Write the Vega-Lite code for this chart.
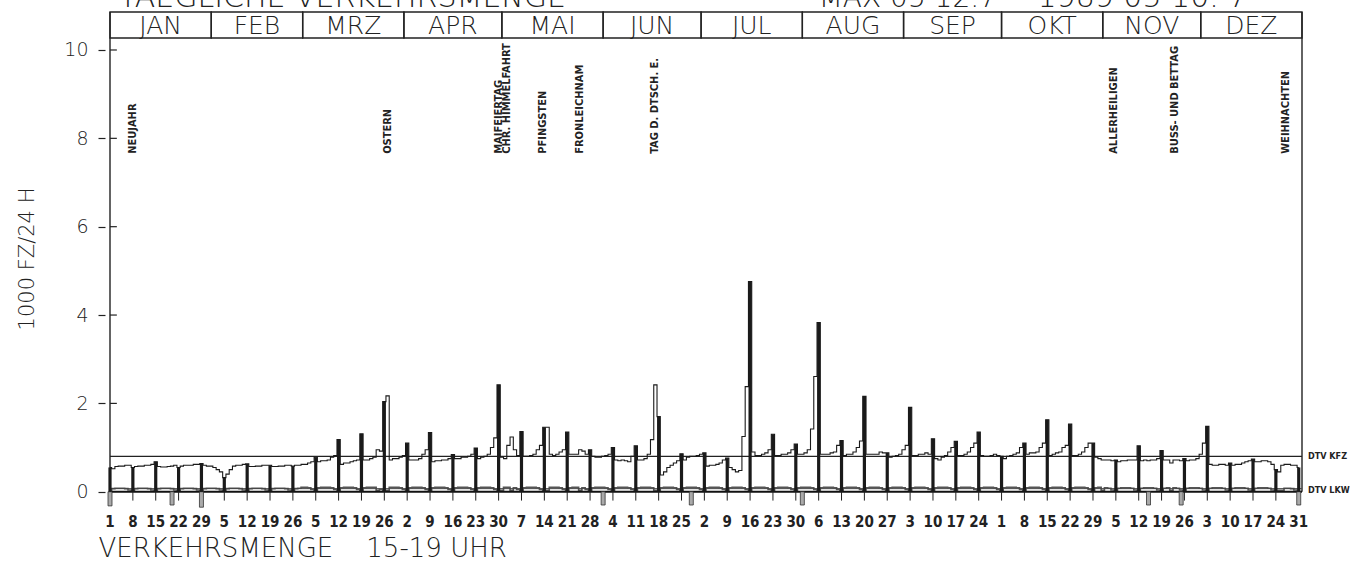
{
  "$schema": "https://vega.github.io/schema/vega-lite/v6.json",
  "autosize": {"type": "none"},
  "width": 1202,
  "height": 493,
  "padding": {"left": 105, "top": 12, "right": 52, "bottom": 62},
  "background": "white",
  "config": {"view": {"stroke": null}},
  "datasets": {
    "tage": [
      {"d":1,"k":0.55,"l":0.03},{"d":2,"k":0.52,"l":0.07},{"d":3,"k":0.57,"l":0.08},{"d":4,"k":0.58,"l":0.08},{"d":5,"k":0.58,"l":0.08},{"d":6,"k":0.6,"l":0.07},{"d":7,"k":0.6,"l":0.04},
      {"d":8,"k":0.55,"l":0.03},{"d":9,"k":0.57,"l":0.07},{"d":10,"k":0.58,"l":0.08},{"d":11,"k":0.58,"l":0.08},{"d":12,"k":0.6,"l":0.08},{"d":13,"k":0.6,"l":0.07},{"d":14,"k":0.62,"l":0.04},
      {"d":15,"k":0.68,"l":0.03},{"d":16,"k":0.57,"l":0.07},{"d":17,"k":0.56,"l":0.08},{"d":18,"k":0.56,"l":0.08},{"d":19,"k":0.57,"l":0.08},{"d":20,"k":0.58,"l":0.07},{"d":21,"k":0.6,"l":0.04},
      {"d":22,"k":0.55,"l":0.03},{"d":23,"k":0.58,"l":0.07},{"d":24,"k":0.6,"l":0.08},{"d":25,"k":0.6,"l":0.08},{"d":26,"k":0.6,"l":0.08},{"d":27,"k":0.62,"l":0.07},{"d":28,"k":0.62,"l":0.04},
      {"d":29,"k":0.64,"l":0.03},{"d":30,"k":0.6,"l":0.07},{"d":31,"k":0.58,"l":0.08},{"d":32,"k":0.58,"l":0.08},{"d":33,"k":0.55,"l":0.08},{"d":34,"k":0.5,"l":0.07},{"d":35,"k":0.45,"l":0.04},
      {"d":36,"k":0.32,"l":0.03},{"d":37,"k":0.4,"l":0.07},{"d":38,"k":0.5,"l":0.08},{"d":39,"k":0.58,"l":0.08},{"d":40,"k":0.6,"l":0.08},{"d":41,"k":0.6,"l":0.07},{"d":42,"k":0.62,"l":0.04},
      {"d":43,"k":0.63,"l":0.03},{"d":44,"k":0.57,"l":0.07},{"d":45,"k":0.57,"l":0.08},{"d":46,"k":0.58,"l":0.08},{"d":47,"k":0.58,"l":0.08},{"d":48,"k":0.6,"l":0.07},{"d":49,"k":0.6,"l":0.04},
      {"d":50,"k":0.6,"l":0.03},{"d":51,"k":0.57,"l":0.07},{"d":52,"k":0.57,"l":0.08},{"d":53,"k":0.58,"l":0.08},{"d":54,"k":0.58,"l":0.08},{"d":55,"k":0.6,"l":0.07},{"d":56,"k":0.6,"l":0.04},
      {"d":57,"k":0.58,"l":0.03},{"d":58,"k":0.6,"l":0.07},{"d":59,"k":0.6,"l":0.08},{"d":60,"k":0.62,"l":0.1},{"d":61,"k":0.62,"l":0.1},{"d":62,"k":0.65,"l":0.09},{"d":63,"k":0.68,"l":0.05},
      {"d":64,"k":0.78,"l":0.03},{"d":65,"k":0.68,"l":0.09},{"d":66,"k":0.7,"l":0.1},{"d":67,"k":0.7,"l":0.1},{"d":68,"k":0.72,"l":0.1},{"d":69,"k":0.78,"l":0.09},{"d":70,"k":0.82,"l":0.05},
      {"d":71,"k":1.18,"l":0.03},{"d":72,"k":0.62,"l":0.09},{"d":73,"k":0.65,"l":0.1},{"d":74,"k":0.65,"l":0.1},{"d":75,"k":0.68,"l":0.1},{"d":76,"k":0.7,"l":0.09},{"d":77,"k":0.72,"l":0.05},
      {"d":78,"k":1.31,"l":0.03},{"d":79,"k":0.72,"l":0.09},{"d":80,"k":0.72,"l":0.1},{"d":81,"k":0.75,"l":0.1},{"d":82,"k":0.78,"l":0.1},{"d":83,"k":0.95,"l":0.03},{"d":84,"k":0.92,"l":0.05},
      {"d":85,"k":2.04,"l":0.03},{"d":86,"k":2.17,"l":0.03},{"d":87,"k":0.72,"l":0.1},{"d":88,"k":0.75,"l":0.1},{"d":89,"k":0.75,"l":0.1},{"d":90,"k":0.78,"l":0.09},{"d":91,"k":0.82,"l":0.05},
      {"d":92,"k":1.1,"l":0.03},{"d":93,"k":0.72,"l":0.09},{"d":94,"k":0.72,"l":0.1},{"d":95,"k":0.72,"l":0.1},{"d":96,"k":0.75,"l":0.1},{"d":97,"k":0.85,"l":0.09},{"d":98,"k":0.95,"l":0.05},
      {"d":99,"k":1.34,"l":0.03},{"d":100,"k":0.68,"l":0.09},{"d":101,"k":0.7,"l":0.1},{"d":102,"k":0.7,"l":0.1},{"d":103,"k":0.72,"l":0.1},{"d":104,"k":0.72,"l":0.09},{"d":105,"k":0.75,"l":0.05},
      {"d":106,"k":0.84,"l":0.03},{"d":107,"k":0.75,"l":0.09},{"d":108,"k":0.75,"l":0.1},{"d":109,"k":0.78,"l":0.1},{"d":110,"k":0.78,"l":0.1},{"d":111,"k":0.8,"l":0.09},{"d":112,"k":0.85,"l":0.05},
      {"d":113,"k":0.99,"l":0.03},{"d":114,"k":0.75,"l":0.09},{"d":115,"k":0.78,"l":0.1},{"d":116,"k":0.8,"l":0.1},{"d":117,"k":0.85,"l":0.1},{"d":118,"k":1.0,"l":0.09},{"d":119,"k":1.22,"l":0.05},
      {"d":120,"k":2.42,"l":0.03},{"d":121,"k":0.78,"l":0.03},{"d":122,"k":0.75,"l":0.1},{"d":123,"k":1.05,"l":0.1},{"d":124,"k":1.24,"l":0.03},{"d":125,"k":0.95,"l":0.09},{"d":126,"k":0.82,"l":0.05},
      {"d":127,"k":1.36,"l":0.03},{"d":128,"k":0.8,"l":0.09},{"d":129,"k":0.8,"l":0.1},{"d":130,"k":0.82,"l":0.1},{"d":131,"k":0.85,"l":0.1},{"d":132,"k":0.95,"l":0.09},{"d":133,"k":1.05,"l":0.05},
      {"d":134,"k":1.46,"l":0.03},{"d":135,"k":1.46,"l":0.03},{"d":136,"k":0.85,"l":0.1},{"d":137,"k":0.82,"l":0.1},{"d":138,"k":0.85,"l":0.1},{"d":139,"k":0.9,"l":0.09},{"d":140,"k":0.95,"l":0.05},
      {"d":141,"k":1.35,"l":0.03},{"d":142,"k":0.85,"l":0.09},{"d":143,"k":0.85,"l":0.1},{"d":144,"k":0.85,"l":0.1},{"d":145,"k":0.95,"l":0.03},{"d":146,"k":0.92,"l":0.09},{"d":147,"k":0.85,"l":0.05},
      {"d":148,"k":0.95,"l":0.03},{"d":149,"k":0.8,"l":0.09},{"d":150,"k":0.78,"l":0.1},{"d":151,"k":0.78,"l":0.1},{"d":152,"k":0.8,"l":0.1},{"d":153,"k":0.82,"l":0.09},{"d":154,"k":0.85,"l":0.05},
      {"d":155,"k":1.0,"l":0.03},{"d":156,"k":0.72,"l":0.09},{"d":157,"k":0.7,"l":0.1},{"d":158,"k":0.72,"l":0.1},{"d":159,"k":0.7,"l":0.1},{"d":160,"k":0.68,"l":0.09},{"d":161,"k":0.8,"l":0.05},
      {"d":162,"k":1.04,"l":0.03},{"d":163,"k":0.72,"l":0.09},{"d":164,"k":0.72,"l":0.1},{"d":165,"k":0.75,"l":0.1},{"d":166,"k":0.85,"l":0.1},{"d":167,"k":1.18,"l":0.09},{"d":168,"k":2.42,"l":0.03},
      {"d":169,"k":1.7,"l":0.03},{"d":170,"k":0.38,"l":0.09},{"d":171,"k":0.45,"l":0.1},{"d":172,"k":0.55,"l":0.1},{"d":173,"k":0.6,"l":0.1},{"d":174,"k":0.65,"l":0.09},{"d":175,"k":0.7,"l":0.05},
      {"d":176,"k":0.86,"l":0.03},{"d":177,"k":0.72,"l":0.09},{"d":178,"k":0.78,"l":0.1},{"d":179,"k":0.8,"l":0.1},{"d":180,"k":0.8,"l":0.1},{"d":181,"k":0.82,"l":0.09},{"d":182,"k":0.85,"l":0.05},
      {"d":183,"k":0.88,"l":0.03},{"d":184,"k":0.58,"l":0.09},{"d":185,"k":0.6,"l":0.1},{"d":186,"k":0.6,"l":0.1},{"d":187,"k":0.62,"l":0.1},{"d":188,"k":0.65,"l":0.09},{"d":189,"k":0.72,"l":0.05},
      {"d":190,"k":0.76,"l":0.03},{"d":191,"k":0.55,"l":0.09},{"d":192,"k":0.5,"l":0.1},{"d":193,"k":0.45,"l":0.1},{"d":194,"k":0.48,"l":0.1},{"d":195,"k":1.25,"l":0.09},{"d":196,"k":2.38,"l":0.05},
      {"d":197,"k":4.76,"l":0.03},{"d":198,"k":0.9,"l":0.09},{"d":199,"k":0.82,"l":0.1},{"d":200,"k":0.82,"l":0.1},{"d":201,"k":0.85,"l":0.1},{"d":202,"k":0.88,"l":0.09},{"d":203,"k":0.95,"l":0.05},
      {"d":204,"k":1.3,"l":0.03},{"d":205,"k":0.82,"l":0.09},{"d":206,"k":0.82,"l":0.1},{"d":207,"k":0.85,"l":0.1},{"d":208,"k":0.85,"l":0.1},{"d":209,"k":0.88,"l":0.09},{"d":210,"k":0.95,"l":0.05},
      {"d":211,"k":1.08,"l":0.03},{"d":212,"k":0.85,"l":0.09},{"d":213,"k":0.85,"l":0.1},{"d":214,"k":0.88,"l":0.1},{"d":215,"k":0.95,"l":0.1},{"d":216,"k":1.42,"l":0.09},{"d":217,"k":2.61,"l":0.05},
      {"d":218,"k":3.83,"l":0.03},{"d":219,"k":0.85,"l":0.09},{"d":220,"k":0.85,"l":0.1},{"d":221,"k":0.85,"l":0.1},{"d":222,"k":0.88,"l":0.1},{"d":223,"k":0.9,"l":0.09},{"d":224,"k":1.05,"l":0.05},
      {"d":225,"k":1.16,"l":0.03},{"d":226,"k":0.82,"l":0.09},{"d":227,"k":0.85,"l":0.1},{"d":228,"k":0.85,"l":0.1},{"d":229,"k":0.9,"l":0.1},{"d":230,"k":1.0,"l":0.09},{"d":231,"k":1.15,"l":0.05},
      {"d":232,"k":2.16,"l":0.03},{"d":233,"k":0.85,"l":0.09},{"d":234,"k":0.85,"l":0.1},{"d":235,"k":0.85,"l":0.1},{"d":236,"k":0.85,"l":0.1},{"d":237,"k":0.9,"l":0.09},{"d":238,"k":0.88,"l":0.05},
      {"d":239,"k":0.88,"l":0.03},{"d":240,"k":0.78,"l":0.09},{"d":241,"k":0.8,"l":0.1},{"d":242,"k":0.82,"l":0.1},{"d":243,"k":0.85,"l":0.1},{"d":244,"k":0.95,"l":0.09},{"d":245,"k":1.05,"l":0.05},
      {"d":246,"k":1.91,"l":0.03},{"d":247,"k":0.82,"l":0.09},{"d":248,"k":0.82,"l":0.1},{"d":249,"k":0.85,"l":0.1},{"d":250,"k":0.85,"l":0.1},{"d":251,"k":0.88,"l":0.09},{"d":252,"k":0.85,"l":0.05},
      {"d":253,"k":1.2,"l":0.03},{"d":254,"k":0.75,"l":0.09},{"d":255,"k":0.72,"l":0.1},{"d":256,"k":0.78,"l":0.1},{"d":257,"k":0.82,"l":0.1},{"d":258,"k":0.9,"l":0.09},{"d":259,"k":1.0,"l":0.05},
      {"d":260,"k":1.14,"l":0.03},{"d":261,"k":0.82,"l":0.09},{"d":262,"k":0.82,"l":0.1},{"d":263,"k":0.85,"l":0.1},{"d":264,"k":0.9,"l":0.1},{"d":265,"k":1.0,"l":0.09},{"d":266,"k":1.1,"l":0.05},
      {"d":267,"k":1.35,"l":0.03},{"d":268,"k":0.82,"l":0.09},{"d":269,"k":0.8,"l":0.1},{"d":270,"k":0.8,"l":0.1},{"d":271,"k":0.82,"l":0.1},{"d":272,"k":0.85,"l":0.09},{"d":273,"k":0.82,"l":0.05},
      {"d":274,"k":0.8,"l":0.03},{"d":275,"k":0.75,"l":0.09},{"d":276,"k":0.8,"l":0.1},{"d":277,"k":0.82,"l":0.1},{"d":278,"k":0.85,"l":0.1},{"d":279,"k":0.88,"l":0.09},{"d":280,"k":1.0,"l":0.05},
      {"d":281,"k":1.1,"l":0.03},{"d":282,"k":0.85,"l":0.09},{"d":283,"k":0.88,"l":0.1},{"d":284,"k":0.88,"l":0.1},{"d":285,"k":0.9,"l":0.1},{"d":286,"k":1.0,"l":0.09},{"d":287,"k":1.1,"l":0.05},
      {"d":288,"k":1.63,"l":0.03},{"d":289,"k":0.82,"l":0.09},{"d":290,"k":0.85,"l":0.1},{"d":291,"k":0.88,"l":0.1},{"d":292,"k":0.9,"l":0.1},{"d":293,"k":1.0,"l":0.09},{"d":294,"k":1.05,"l":0.05},
      {"d":295,"k":1.53,"l":0.03},{"d":296,"k":0.82,"l":0.09},{"d":297,"k":0.82,"l":0.1},{"d":298,"k":0.85,"l":0.1},{"d":299,"k":0.9,"l":0.1},{"d":300,"k":1.0,"l":0.09},{"d":301,"k":1.1,"l":0.05},
      {"d":302,"k":1.1,"l":0.03},{"d":303,"k":0.78,"l":0.09},{"d":304,"k":0.75,"l":0.1},{"d":305,"k":0.72,"l":0.03},{"d":306,"k":0.72,"l":0.09},{"d":307,"k":0.72,"l":0.08},{"d":308,"k":0.7,"l":0.04},
      {"d":309,"k":0.72,"l":0.03},{"d":310,"k":0.68,"l":0.08},{"d":311,"k":0.7,"l":0.09},{"d":312,"k":0.7,"l":0.09},{"d":313,"k":0.72,"l":0.09},{"d":314,"k":0.72,"l":0.08},{"d":315,"k":0.72,"l":0.04},
      {"d":316,"k":1.04,"l":0.03},{"d":317,"k":0.7,"l":0.08},{"d":318,"k":0.72,"l":0.09},{"d":319,"k":0.7,"l":0.09},{"d":320,"k":0.72,"l":0.09},{"d":321,"k":0.72,"l":0.08},{"d":322,"k":0.75,"l":0.04},
      {"d":323,"k":0.93,"l":0.03},{"d":324,"k":0.72,"l":0.08},{"d":325,"k":0.72,"l":0.09},{"d":326,"k":0.65,"l":0.03},{"d":327,"k":0.72,"l":0.09},{"d":328,"k":0.72,"l":0.08},{"d":329,"k":0.7,"l":0.04},
      {"d":330,"k":0.75,"l":0.03},{"d":331,"k":0.7,"l":0.08},{"d":332,"k":0.72,"l":0.09},{"d":333,"k":0.72,"l":0.09},{"d":334,"k":0.75,"l":0.09},{"d":335,"k":0.85,"l":0.08},{"d":336,"k":1.1,"l":0.04},
      {"d":337,"k":1.48,"l":0.03},{"d":338,"k":0.62,"l":0.08},{"d":339,"k":0.6,"l":0.09},{"d":340,"k":0.6,"l":0.09},{"d":341,"k":0.62,"l":0.09},{"d":342,"k":0.62,"l":0.08},{"d":343,"k":0.6,"l":0.04},
      {"d":344,"k":0.65,"l":0.03},{"d":345,"k":0.6,"l":0.08},{"d":346,"k":0.62,"l":0.09},{"d":347,"k":0.62,"l":0.09},{"d":348,"k":0.65,"l":0.09},{"d":349,"k":0.68,"l":0.08},{"d":350,"k":0.7,"l":0.04},
      {"d":351,"k":0.74,"l":0.03},{"d":352,"k":0.68,"l":0.08},{"d":353,"k":0.68,"l":0.09},{"d":354,"k":0.7,"l":0.09},{"d":355,"k":0.7,"l":0.09},{"d":356,"k":0.68,"l":0.08},{"d":357,"k":0.62,"l":0.04},
      {"d":358,"k":0.5,"l":0.03},{"d":359,"k":0.45,"l":0.03},{"d":360,"k":0.6,"l":0.03},{"d":361,"k":0.62,"l":0.08},{"d":362,"k":0.62,"l":0.08},{"d":363,"k":0.6,"l":0.07},{"d":364,"k":0.6,"l":0.04},
      {"d":365,"k":0.55,"l":0.03}
    ],
    "monate": [
      {"m":"JAN","von":1,"bis":32},{"m":"FEB","von":32,"bis":60},{"m":"MRZ","von":60,"bis":91},
      {"m":"APR","von":91,"bis":121},{"m":"MAI","von":121,"bis":152},{"m":"JUN","von":152,"bis":182},
      {"m":"JUL","von":182,"bis":213},{"m":"AUG","von":213,"bis":244},{"m":"SEP","von":244,"bis":274},
      {"m":"OKT","von":274,"bis":305},{"m":"NOV","von":305,"bis":335},{"m":"DEZ","von":335,"bis":366}
    ],
    "feiertage": [
      {"d":8,"name":"NEUJAHR"},{"d":86,"name":"OSTERN"},{"d":120,"name":"MAIFEIERTAG"},
      {"d":122.7,"name":"CHR. HIMMELFAHRT"},{"d":133.5,"name":"PFINGSTEN"},{"d":145,"name":"FRONLEICHNAM"},
      {"d":168,"name":"TAG D. DTSCH. E."},{"d":308.5,"name":"ALLERHEILIGEN"},{"d":327,"name":"BUSS- UND BETTAG"},
      {"d":361,"name":"WEIHNACHTEN"}
    ],
    "luecken": [
      {"d":1,"t":-0.32},{"d":20,"t":-0.3},{"d":29,"t":-0.35},{"d":152,"t":-0.3},{"d":179,"t":-0.3},
      {"d":213,"t":-0.3},{"d":319,"t":-0.3},{"d":329,"t":-0.3},{"d":365,"t":-0.3}
    ],
    "ticks": [{"v":2},{"v":4},{"v":6},{"v":8},{"v":10}],
    "eins": [{}]
  },
  "layer": [
    {
      "data": {"name": "tage"},
      "mark": {"type": "line", "interpolate": "step", "color": "#555", "strokeWidth": 1.6},
      "encoding": {
        "x": {"field": "d", "type": "quantitative", "scale": {"domain": [1, 366], "nice": false, "zero": false},
          "axis": {
            "labels": false, "ticks": false, "domain": false, "grid": false,
            "title": "VERKEHRSMENGE\u00a0\u00a0\u00a0\u00a015-19 UHR",
            "titleAnchor": "start", "titleAlign": "left", "titleBaseline": "top",
            "titleX": -7, "titleY": 30,
            "titleFont": "DejaVu Sans", "titleFontWeight": 200, "titleFontSize": 26, "titleColor": "#222"
          }},
        "y": {"field": "l", "type": "quantitative", "scale": {"domain": [-0.3, 10.86], "nice": false, "zero": false},
          "axis": {
            "values": [0,2,4,6,8,10], "domain": false, "grid": false,
            "tickSize": 7, "tickColor": "#222", "tickWidth": 1.2,
            "labelFont": "DejaVu Sans", "labelFontWeight": 200, "labelFontSize": 19, "labelColor": "#222", "labelPadding": 10,
            "title": "1000 FZ/24 H", "titleFont": "DejaVu Sans", "titleFontWeight": 200, "titleFontSize": 21,
            "titleColor": "#222", "titlePadding": 26
          }}
      }
    },
    {
      "data": {"name": "monate"},
      "mark": {"type": "rect", "fill": null, "fillOpacity": 0, "stroke": "#222", "strokeWidth": 1.4},
      "encoding": {
        "x": {"field": "von", "type": "quantitative"},
        "x2": {"field": "bis"},
        "y": {"datum": 10.27},
        "y2": {"datum": 10.86}
      }
    },
    {
      "data": {"name": "monate"},
      "transform": [{"calculate": "(datum.von + datum.bis) / 2", "as": "mitte"}],
      "mark": {"type": "text", "font": "DejaVu Sans", "fontWeight": 200, "fontSize": 25, "color": "#222", "baseline": "middle", "align": "center", "dy": 1},
      "encoding": {
        "x": {"field": "mitte", "type": "quantitative"},
        "y": {"datum": 10.56},
        "text": {"field": "m"}
      }
    },
    {
      "data": {"name": "eins"},
      "mark": {"type": "rule", "color": "#222", "strokeWidth": 1.4},
      "encoding": {"x": {"datum": 1}, "y": {"datum": -0.05}, "y2": {"datum": 10.86}}
    },
    {
      "data": {"name": "eins"},
      "mark": {"type": "rule", "color": "#222", "strokeWidth": 1.4},
      "encoding": {"x": {"datum": 366}, "y": {"datum": 0}, "y2": {"datum": 10.86}}
    },
    {
      "data": {"name": "ticks"},
      "mark": {"type": "rule", "color": "#222", "strokeWidth": 1.2},
      "encoding": {"x": {"datum": 1}, "x2": {"datum": 3.1}, "y": {"field": "v", "type": "quantitative"}}
    },
    {
      "data": {"name": "eins"},
      "mark": {"type": "rule", "color": "#111", "strokeWidth": 2},
      "encoding": {"x": {"datum": 1}, "x2": {"datum": 366}, "y": {"datum": 0}}
    },
    {
      "data": {"name": "eins"},
      "mark": {"type": "rule", "color": "#222", "strokeWidth": 1.1},
      "encoding": {"x": {"datum": 1}, "x2": {"datum": 366}, "y": {"datum": 0.8}}
    },
    {
      "data": {"name": "eins"},
      "mark": {"type": "rule", "color": "#444", "strokeWidth": 1},
      "encoding": {"x": {"datum": 1}, "x2": {"datum": 366}, "y": {"datum": 0.07}}
    },
    {
      "data": {"name": "tage"},
      "transform": [{"filter": "datum.d % 7 == 1"}],
      "mark": {"type": "rule", "color": "#222", "strokeWidth": 1},
      "encoding": {"x": {"field": "d", "type": "quantitative"}, "y": {"datum": 0}, "y2": {"datum": -0.2}}
    },
    {
      "data": {"name": "tage"},
      "transform": [{"filter": "datum.d % 7 == 1"}, {"calculate": "date(datetime(1989, 0, datum.d))", "as": "tag"}],
      "mark": {"type": "text", "font": "DejaVu Sans Condensed", "fontWeight": "bold", "fontSize": 15, "color": "#222", "baseline": "middle", "align": "center"},
      "encoding": {"x": {"field": "d", "type": "quantitative"}, "y": {"datum": -0.68}, "text": {"field": "tag"}}
    },
    {
      "data": {"name": "luecken"},
      "mark": {"type": "bar", "orient": "vertical", "size": 4, "fill": "#aaa", "stroke": "#333", "strokeWidth": 0.8},
      "encoding": {"x": {"field": "d", "type": "quantitative"}, "y": {"field": "t", "type": "quantitative"}, "y2": {"datum": 0}}
    },
    {
      "data": {"name": "tage"},
      "mark": {"type": "line", "interpolate": "step", "color": "#1a1a1a", "strokeWidth": 1.1},
      "encoding": {"x": {"field": "d", "type": "quantitative"}, "y": {"field": "k", "type": "quantitative"}}
    },
    {
      "data": {"name": "tage"},
      "transform": [{"filter": "datum.d % 7 == 1"}],
      "mark": {"type": "rule", "color": "#1a1a1a", "strokeWidth": 3.2},
      "encoding": {"x": {"field": "d", "type": "quantitative"}, "y": {"field": "k", "type": "quantitative"}, "y2": {"datum": 0}}
    },
    {
      "data": {"name": "feiertage"},
      "mark": {"type": "text", "angle": 270, "align": "left", "baseline": "middle", "font": "DejaVu Sans Condensed", "fontWeight": "bold", "fontSize": 11, "color": "#222"},
      "encoding": {"x": {"field": "d", "type": "quantitative"}, "y": {"datum": 7.65}, "text": {"field": "name"}}
    },
    {
      "data": {"name": "eins"},
      "mark": {"type": "text", "text": "DTV KFZ", "align": "left", "baseline": "middle", "dx": 6, "font": "DejaVu Sans Condensed", "fontWeight": "bold", "fontSize": 9, "color": "#222"},
      "encoding": {"x": {"datum": 366}, "y": {"datum": 0.8}}
    },
    {
      "data": {"name": "eins"},
      "mark": {"type": "text", "text": "DTV LKW", "align": "left", "baseline": "middle", "dx": 6, "font": "DejaVu Sans Condensed", "fontWeight": "bold", "fontSize": 9, "color": "#222"},
      "encoding": {"x": {"datum": 366}, "y": {"datum": 0.05}}
    },
    {
      "data": {"name": "eins"},
      "mark": {"type": "text", "text": "TAEGLICHE  VERKEHRSMENGE", "align": "left", "baseline": "alphabetic", "font": "DejaVu Sans", "fontWeight": 200, "fontSize": 30, "color": "#222"},
      "encoding": {"x": {"datum": 3.7}, "y": {"datum": 10.97}}
    },
    {
      "data": {"name": "eins"},
      "mark": {"type": "text", "text": "MAX 05 12.7", "align": "left", "baseline": "alphabetic", "font": "DejaVu Sans", "fontWeight": 200, "fontSize": 28, "color": "#222"},
      "encoding": {"x": {"datum": 218}, "y": {"datum": 10.97}}
    },
    {
      "data": {"name": "eins"},
      "mark": {"type": "text", "text": "1989 05 10. 7", "align": "left", "baseline": "alphabetic", "font": "DejaVu Sans", "fontWeight": 200, "fontSize": 30, "color": "#222"},
      "encoding": {"x": {"datum": 285}, "y": {"datum": 10.97}}
    }
  ]
}
